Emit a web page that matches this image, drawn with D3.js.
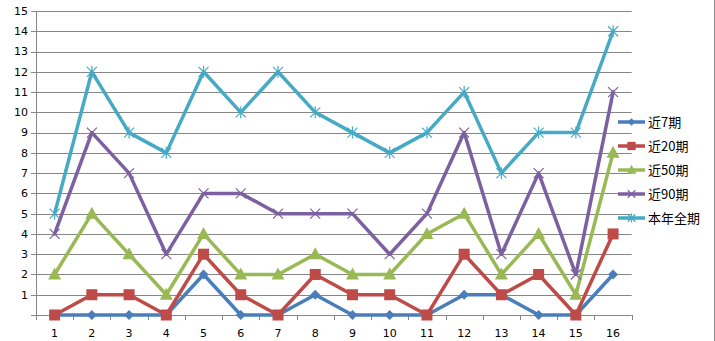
<!DOCTYPE html>
<html><head><meta charset="utf-8">
<script src="https://cdn.jsdelivr.net/npm/d3@7"></script>
<style>body{margin:0;background:#fff;}svg{display:block;}</style>
</head><body>
<svg id="c" width="715" height="341"></svg>
<script>
const categories = ["1","2","3","4","5","6","7","8","9","10","11","12","13","14","15","16"];
const seriesNames = ["近7期","近20期","近50期","近90期","本年全期"];
const s7  = [0,0,0,0,2,0,0,1,0,0,0,1,1,0,0,2];
const s20 = [0,1,1,0,3,1,0,2,1,1,0,3,1,2,0,4];
const s50 = [2,5,3,1,4,2,2,3,2,2,4,5,2,4,1,8];
const s90 = [4,9,7,3,6,6,5,5,5,3,5,9,3,7,2,11];
const sAll = [5,12,9,8,12,10,12,10,9,8,9,11,7,9,9,14];
const yTicks = [1,2,3,4,5,6,7,8,9,10,11,12,13,14,15];

const colors = ["#4A7EBB","#BE4B48","#98B954","#7D60A0","#46AAC5"];
const markers = ["diamond","square","triangle","x","star"];
const allSeries = [s7,s20,s50,s90,sAll];

const svg = d3.select("#c");
const L=36, R=631.7, T=11, B=315;
const x = d3.scaleBand().domain(categories).range([L,R]);
const y = d3.scaleLinear().domain([0,15]).range([B,T]);

// gridlines
svg.append("g").selectAll("line").data(d3.range(0,16)).join("line")
  .attr("x1",L-5).attr("x2",R).attr("y1",d=>Math.round(y(d))+0.5).attr("y2",d=>Math.round(y(d))+0.5)
  .attr("stroke","#868686").attr("stroke-width",1);
// y axis line
svg.append("line").attr("x1",L+0.5).attr("x2",L+0.5).attr("y1",T).attr("y2",B)
  .attr("stroke","#868686");
// x ticks
const bounds = categories.map(c=>x(c)).concat([R]);
svg.append("g").selectAll("line").data(bounds).join("line")
  .attr("x1",d=>Math.round(d)+0.5).attr("x2",d=>Math.round(d)+0.5).attr("y1",B).attr("y2",B+5)
  .attr("stroke","#868686");
// right border
svg.append("line").attr("x1",714.5).attr("x2",714.5).attr("y1",0).attr("y2",341).attr("stroke","#8c8c8c").attr("stroke-width",1);

// y labels
svg.append("g").selectAll("text").data(yTicks).join("text")
  .attr("x",28).attr("y",d=>y(d)).attr("dy","0.35em").attr("text-anchor","end")
  .attr("font-family","DejaVu Sans, Verdana, sans-serif").attr("font-size",11).attr("fill","#000")
  .text(d=>d);
// x labels
svg.append("g").selectAll("text").data(categories).join("text")
  .attr("x",d=>x(d)+x.bandwidth()/2).attr("y",337).attr("text-anchor","middle")
  .attr("font-family","DejaVu Sans, Verdana, sans-serif").attr("font-size",11).attr("fill","#000")
  .text(d=>d);

function drawMarker(g, type, cx, cy, color, s){
  s = s || 1;
  if(type==="diamond"){
    g.append("path").attr("d",`M${cx},${cy-5*s}L${cx+5*s},${cy}L${cx},${cy+5*s}L${cx-5*s},${cy}Z`).attr("fill",color);
  } else if(type==="square"){
    g.append("rect").attr("x",cx-5.5*s).attr("y",cy-5.5*s).attr("width",11*s).attr("height",11*s).attr("fill",color);
  } else if(type==="triangle"){
    g.append("path").attr("d",`M${cx},${cy-7*s}L${cx+6.5*s},${cy+5*s}L${cx-6.5*s},${cy+5*s}Z`).attr("fill",color);
  } else if(type==="x"){
    g.append("path").attr("d",`M${cx-5*s},${cy-5*s}L${cx+5*s},${cy+5*s}M${cx+5*s},${cy-5*s}L${cx-5*s},${cy+5*s}`).attr("stroke",color).attr("stroke-width",1.2);
  } else if(type==="star"){
    g.append("path").attr("d",`M${cx-5*s},${cy-5*s}L${cx+5*s},${cy+5*s}M${cx+5*s},${cy-5*s}L${cx-5*s},${cy+5*s}M${cx},${cy-6*s}L${cx},${cy+6*s}`).attr("stroke",color).attr("stroke-width",1.2);
  }
}

const line = d3.line().x((d,i)=>x(categories[i])+x.bandwidth()/2).y(d=>y(d));
allSeries.forEach((s,k)=>{
  const g = svg.append("g");
  g.append("path").datum(s).attr("d",line).attr("fill","none")
    .attr("stroke",colors[k]).attr("stroke-width",3.5).attr("stroke-linejoin","round").attr("stroke-linecap","round");
  s.forEach((v,i)=>drawMarker(g, markers[k], x(categories[i])+x.bandwidth()/2, y(v), colors[k]));
});

// legend
seriesNames.forEach((n,k)=>{
  const ly = 122 + k*24;
  const g = svg.append("g");
  g.append("line").attr("x1",618).attr("x2",645).attr("y1",ly).attr("y2",ly).attr("stroke",colors[k]).attr("stroke-width",3.5);
  drawMarker(g, markers[k], 631.5, ly, colors[k], 0.75);
  g.append("text").attr("x",648).attr("y",ly).attr("dy","0.35em")
    .attr("font-family","Noto Sans CJK SC, sans-serif").attr("font-size",13).attr("fill","#000").text(n);
});
</script>
</body></html>
